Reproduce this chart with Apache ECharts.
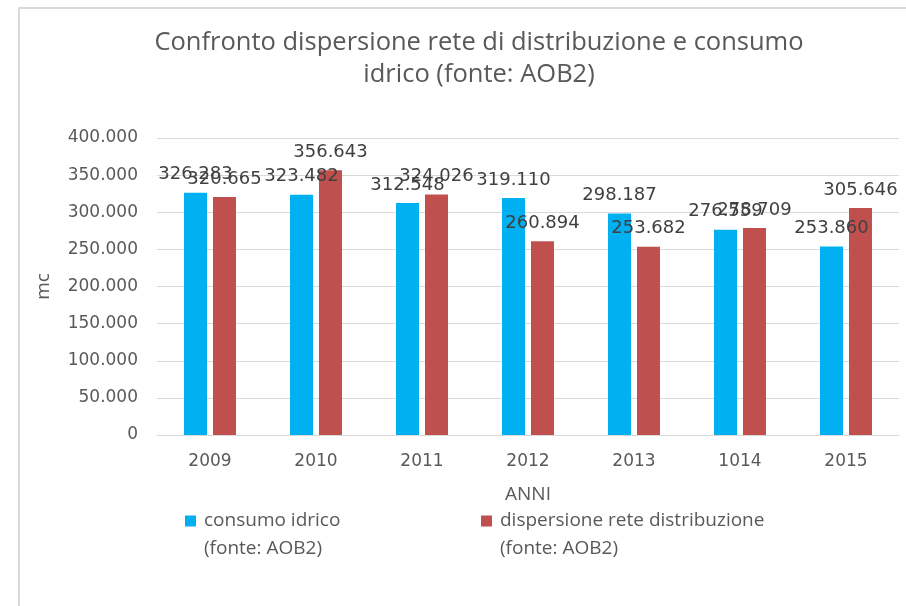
<!DOCTYPE html>
<html>
<head>
<meta charset="utf-8">
<script src="https://cdn.jsdelivr.net/npm/echarts@6/dist/echarts.min.js"></script>
<style>
  html, body { margin: 0; padding: 0; background: #fff; }
  #chart { width: 906px; height: 606px; }
</style>
</head>
<body>
<div id="chart"></div>
<script>
// data
const years = ["2009", "2010", "2011", "2012", "2013", "1014", "2015"];
const consumo = [326283, 323482, 312548, 319110, 298187, 276559, 253860];
const dispersione = [320665, 356643, 324026, 260894, 253682, 278709, 305646];
const seriesNames = [
  "consumo idrico\n(fonte: AOB2)",
  "dispersione rete distribuzione\n(fonte: AOB2)",
];

// 326283 -> "326.283"
function fmt(v) {
  return String(v).replace(/\B(?=(\d{3})+(?!\d))/g, ".");
}

const textColor = "#595959";
const font = "DejaVu Sans";
const textFont = "Open Sans";
// square sitting on the first line of a two line legend entry
const legendIcon = "path://M0,0L11,0L11,11L0,11Z M14,39L14,39";

const legendBase = {
  top: 502,
  itemWidth: 14,
  itemHeight: 39,
  icon: legendIcon,
  textStyle: { fontFamily: textFont, fontSize: 19, color: textColor, lineHeight: 28 },
};

const chart = echarts.init(document.getElementById("chart"));
chart.setOption({
  animation: false,
  graphic: [
    {
      type: "rect",
      shape: { x: 19, y: 8, width: 1000, height: 1000 },
      style: { fill: "none", stroke: "#d9d9d9", lineWidth: 2 },
      silent: true,
    },
  ],
  title: {
    text: "Confronto dispersione rete di distribuzione e consumo\nidrico (fonte: AOB2)",
    left: 474,
    top: 22,
    textAlign: "center",
    textStyle: {
      fontFamily: textFont,
      fontSize: 25.5,
      fontWeight: "normal",
      color: textColor,
      lineHeight: 32,
    },
  },
  grid: {
    left: 157,
    right: 7,
    top: 138,
    bottom: 171,
    containLabel: false,
  },
  legend: [
    Object.assign({}, legendBase, { data: [seriesNames[0]], left: 180 }),
    Object.assign({}, legendBase, { data: [seriesNames[1]], left: 476 }),
  ],
  xAxis: {
    type: "category",
    data: years,
    name: "ANNI",
    nameLocation: "middle",
    nameGap: 50,
    nameTextStyle: { fontFamily: textFont, fontSize: 19, color: textColor },
    axisLine: { lineStyle: { color: "#d9d9d9", width: 1 } },
    axisTick: { show: false },
    axisLabel: { fontFamily: font, fontSize: 17, color: textColor, margin: 18 },
  },
  yAxis: {
    type: "value",
    min: 0,
    max: 400000,
    interval: 50000,
    name: "mc",
    nameLocation: "middle",
    nameGap: 104,
    nameTextStyle: { fontFamily: textFont, fontSize: 19, color: textColor },
    axisLine: { show: false },
    axisTick: { show: false },
    axisLabel: {
      fontFamily: font,
      fontSize: 17,
      color: textColor,
      margin: 19,
      formatter: fmt,
    },
    splitLine: { lineStyle: { color: "#d9d9d9", width: 1 } },
  },
  series: [
    {
      name: seriesNames[0],
      type: "bar",
      data: consumo,
      barWidth: 23,
      barGap: "26%",
      itemStyle: { color: "#00B0F0" },
      label: {
        show: true,
        position: "top",
        distance: 9,
        fontFamily: font,
        fontSize: 18,
        color: "#404040",
        formatter: (p) => fmt(p.value),
      },
    },
    {
      name: seriesNames[1],
      type: "bar",
      data: dispersione,
      barWidth: 23,
      itemStyle: { color: "#C0504D" },
      label: {
        show: true,
        position: "top",
        distance: 9,
        fontFamily: font,
        fontSize: 18,
        color: "#404040",
        formatter: (p) => fmt(p.value),
      },
    },
  ],
});
</script>
</body>
</html>
